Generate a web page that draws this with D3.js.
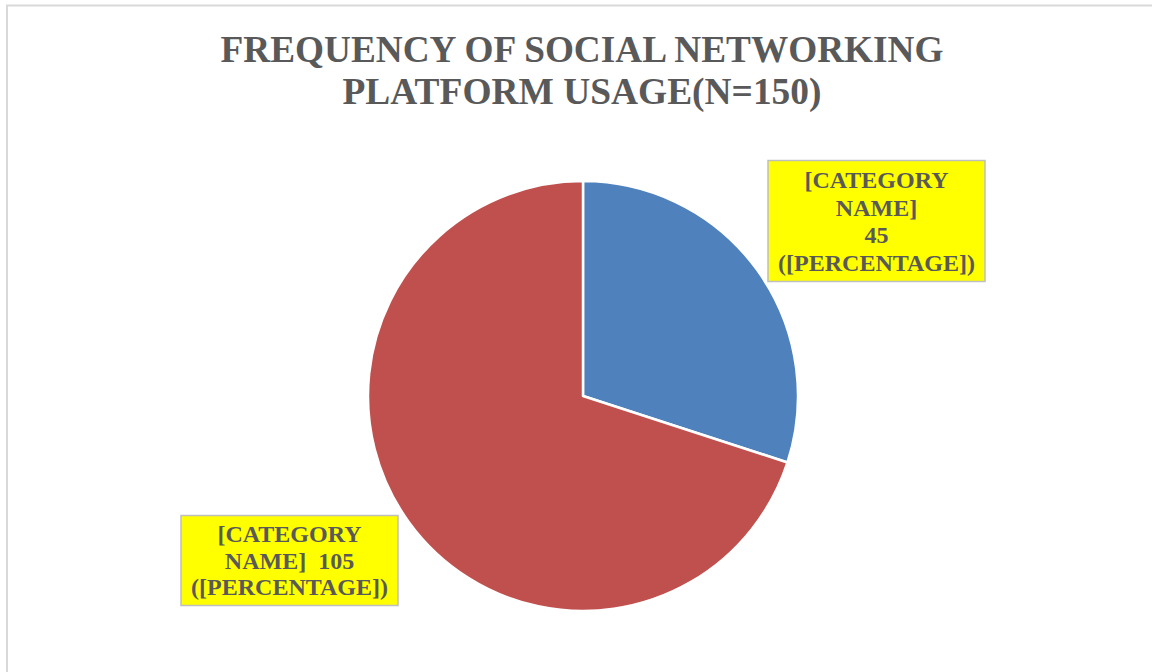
<!DOCTYPE html>
<html>
<head>
<meta charset="utf-8">
<script src="https://cdn.jsdelivr.net/npm/d3@7"></script>
<style>
  body { margin: 0; background: #fff; }
  svg text { font-weight: bold; fill: #595959; }
</style>
</head>
<body>
<div class="pie"></div>
<script>
// Pie chart of social networking platform usage frequency

var categories = ["[CATEGORY NAME]", "[CATEGORY NAME]"];
var counts = [45, 105];
var colors = ["#4F81BD", "#C0504D"];
var titleLines = ["FREQUENCY OF SOCIAL NETWORKING", "PLATFORM USAGE(N=150)"];
var labelLines = [
    ["[CATEGORY", "NAME]", "45", "([PERCENTAGE])"],
    ["[CATEGORY", "NAME]  105", "([PERCENTAGE])"]
];

var serif = "'Liberation Serif', 'DejaVu Serif', 'Times New Roman', Times, serif";

var svgwidth = 1152;
var svgheight = 672;

var svg = d3.select(".pie")
            .append("svg")
            .attr("width", svgwidth)
            .attr("height", svgheight);

// chart area border
svg.append("rect")
    .attr("x", 7)
    .attr("y", 5.5)
    .attr("width", svgwidth + 20)
    .attr("height", svgheight + 20)
    .attr("fill", "#fff")
    .attr("stroke", "#d9d9d9")
    .attr("stroke-width", 2);

// title
var titleWidths = [723, 479];
svg.append("g").selectAll("text")
    .data(titleLines)
    .enter()
    .append("text")
    .attr("x", 582)
    .attr("y", (d, i) => 62 + i * 42)
    .attr("text-anchor", "middle")
    .style("font-family", serif)
    .attr("font-size", "38px")
    .attr("textLength", (d, i) => titleWidths[i])
    .attr("lengthAdjust", "spacingAndGlyphs")
    .text(d => d);

// pie
var radius = 215;
var cx = 583, cy = 396;

var pie = d3.pie().sort(null);
var arc = d3.arc().innerRadius(0).outerRadius(radius);

var pieGroup = svg.append("g")
    .attr("transform", `translate(${cx}, ${cy})`);

pieGroup.selectAll("path")
    .data(pie(counts))
    .enter()
    .append("path")
    .attr("d", arc)
    .attr("fill", (d, i) => colors[i])
    .attr("stroke", "#fff")
    .attr("stroke-width", 2.5)
    .attr("stroke-linejoin", "round");

// data labels in yellow boxes
var boxes = [
    {x: 768, y: 160.5, w: 217, h: 121, firstBase: 188, step: 27.5},
    {x: 181, y: 515.5, w: 217, h: 90, firstBase: 542, step: 26.5}
];

boxes.forEach(function(b, i) {
    var g = svg.append("g");
    g.append("rect")
        .attr("x", b.x)
        .attr("y", b.y)
        .attr("width", b.w)
        .attr("height", b.h)
        .attr("fill", "#ffff00")
        .attr("stroke", "#bfbfbf")
        .attr("stroke-width", 1.5);
    g.selectAll("text")
        .data(labelLines[i])
        .enter()
        .append("text")
        .attr("x", b.x + b.w / 2)
        .attr("y", (d, j) => b.firstBase + j * b.step)
        .attr("text-anchor", "middle")
        .style("font-family", serif)
        .attr("font-size", "24px")
        .style("white-space", "pre")
        .text(d => d);
});
</script>
</body>
</html>
